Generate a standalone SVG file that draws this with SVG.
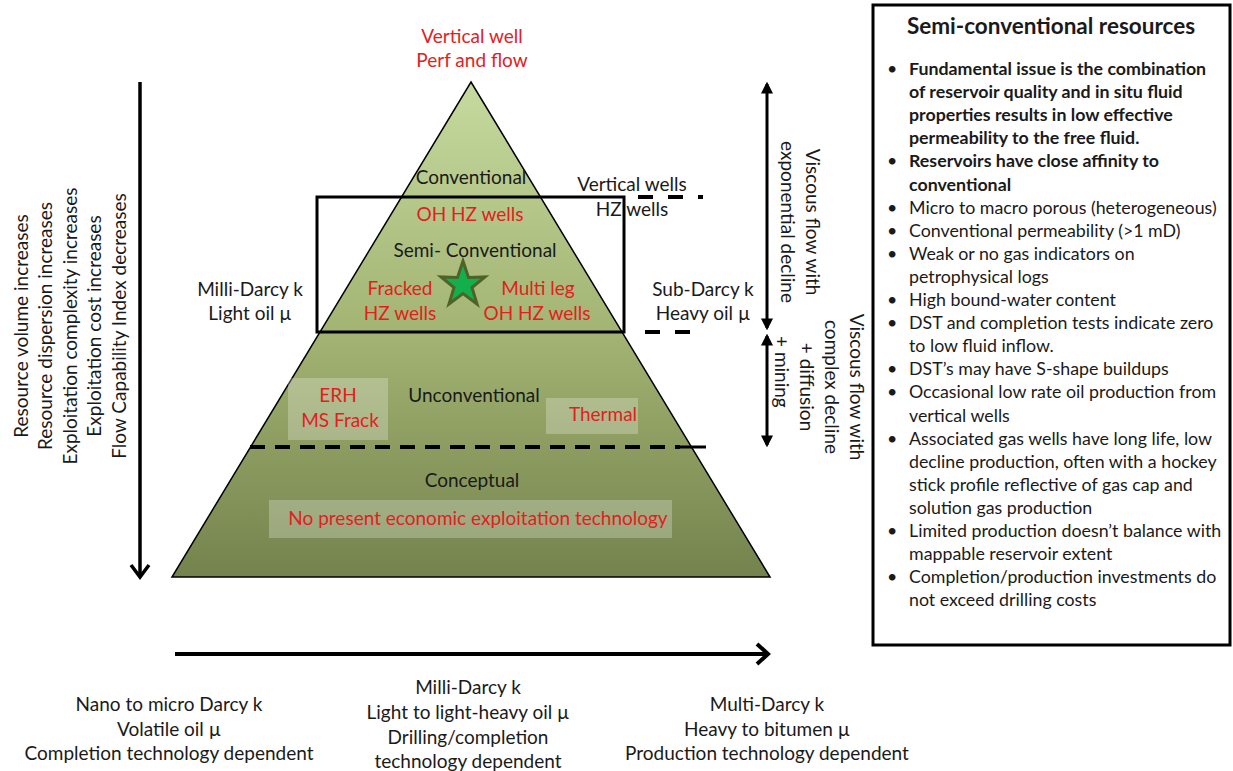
<svg xmlns="http://www.w3.org/2000/svg" width="1233" height="771" viewBox="0 0 1233 771">
<defs>
<linearGradient id="pg" x1="0" y1="82" x2="0" y2="577" gradientUnits="userSpaceOnUse">
<stop offset="0" stop-color="#c6da9f"/>
<stop offset="0.5" stop-color="#a3b473"/>
<stop offset="1" stop-color="#74834d"/>
</linearGradient>
<marker id="tri" viewBox="0 0 10 10" refX="8" refY="5" markerUnits="userSpaceOnUse" markerWidth="12" markerHeight="12" orient="auto-start-reverse">
<path d="M0,0 L10,5 L0,10 z" fill="#000"/>
</marker>
</defs>
<style>
text{font-family:Lato,"Open Sans",sans-serif;font-size:19px;fill:#1a1a1a}
.r{fill:#e3201e}
.c{text-anchor:middle}
.b{font-weight:bold}
.bl{font-size:17.8px}
.hl{fill:#ffffff;fill-opacity:0.25}
.dash{stroke:#000;stroke-width:4;stroke-dasharray:15 15;fill:none}
.ln{stroke:#000;fill:none}
</style>
<rect width="1233" height="771" fill="#fff"/>

<g id="pyramid">
<polygon points="471,82 770,577 172,577" fill="url(#pg)" stroke="#000" stroke-width="1.5"/>
<rect class="hl" x="288" y="378" width="100" height="62"/>
<rect class="hl" x="546" y="398" width="92" height="36"/>
<rect class="hl" x="269" y="500" width="403" height="38"/>
</g>

<g id="connectors">
<rect x="317" y="197" width="307" height="135" class="ln" stroke-width="3"/>
<path class="dash" d="M638 197 H703"/>
<path class="dash" d="M645 332 H693"/>
<path class="dash" d="M250 447 H680" style="stroke-dasharray:15 10"/>
<path class="ln" d="M680 447 H706" stroke-width="3"/>
<path class="ln" d="M140 82 V575" stroke-width="3.5"/>
<polyline class="ln" points="131,565 140,577 149,565" stroke-width="3.5"/>
<path class="ln" d="M175 654 H767" stroke-width="4"/>
<polyline class="ln" points="757,644 768,654 757,664" stroke-width="4"/>
<path class="ln" d="M767 84 V328" stroke-width="3" marker-start="url(#tri)" marker-end="url(#tri)"/>
<path class="ln" d="M767 336 V445" stroke-width="3" marker-start="url(#tri)" marker-end="url(#tri)"/>
</g>

<g id="star">
<polygon points="463,261 468.5,277.5 485,277 472,287.5 477,304 463,293.5 449,304 454,287.5 441,277 457.5,277.5" fill="#12b04c" stroke="#4f6228" stroke-width="3"/>
</g>

<g id="top-label">
<text class="c r" x="472" y="43">Vertical well</text>
<text class="c r" x="472" y="67">Perf and flow</text>
</g>

<g id="conventional">
<text class="c" x="471" y="184">Conventional</text>
<text class="c" x="632" y="191">Vertical wells</text>
<text class="c" x="632" y="216">HZ wells</text>
</g>

<g id="semi-conventional">
<text class="c r" x="470" y="221">OH HZ wells</text>
<text class="c" x="475" y="257">Semi- Conventional</text>
<text class="c r" x="400" y="295">Fracked</text>
<text class="c r" x="400" y="320">HZ wells</text>
<text class="c r" x="538" y="295">Multi leg</text>
<text class="c r" x="537" y="320">OH HZ wells</text>
<text class="c" x="250" y="296">Milli-Darcy k</text>
<text class="c" x="250" y="320">Light oil µ</text>
<text class="c" x="703" y="296">Sub-Darcy k</text>
<text class="c" x="703" y="320">Heavy oil µ</text>
</g>

<g id="unconventional">
<text class="c r" x="338" y="402">ERH</text>
<text class="c r" x="340" y="427">MS Frack</text>
<text class="c" x="474" y="402">Unconventional</text>
<text class="c r" x="603" y="421">Thermal</text>
</g>

<g id="conceptual">
<text class="c" x="472" y="487">Conceptual</text>
<text class="c r" x="478" y="525">No present economic exploitation technology</text>
</g>

<g id="left-axis-label">
<text class="c" transform="translate(28 326) rotate(-90)">Resource volume increases</text>
<text class="c" transform="translate(52 326) rotate(-90)">Resource dispersion increases</text>
<text class="c" transform="translate(77 326) rotate(-90)">Exploitation complexity increases</text>
<text class="c" transform="translate(101 326) rotate(-90)">Exploitation cost increases</text>
<text class="c" transform="translate(126 326) rotate(-90)">Flow Capability Index decreases</text>
</g>

<g id="flow-labels">
<text class="c" transform="translate(806 222) rotate(90)">Viscous flow with</text>
<text class="c" transform="translate(781 222) rotate(90)">exponential decline</text>
<text class="c" transform="translate(850 387) rotate(90)">Viscous flow with</text>
<text class="c" transform="translate(825 387) rotate(90)">complex decline</text>
<text class="c" transform="translate(800 387) rotate(90)">+ diffusion</text>
<text transform="translate(775 336) rotate(90)">+ mining</text>
</g>

<g id="bottom-labels">
<text class="c" x="169" y="711">Nano to micro Darcy k</text>
<text class="c" x="169" y="736">Volatile oil µ</text>
<text class="c" x="169" y="760">Completion technology dependent</text>
<text class="c" x="468" y="694">Milli-Darcy k</text>
<text class="c" x="468" y="719">Light to light-heavy oil µ</text>
<text class="c" x="468" y="744">Drilling/completion</text>
<text class="c" x="468" y="768">technology dependent</text>
<text class="c" x="767" y="711">Multi-Darcy k</text>
<text class="c" x="767" y="736">Heavy to bitumen µ</text>
<text class="c" x="767" y="760">Production technology dependent</text>
</g>

<g id="info-box">
<rect x="873" y="5" width="357" height="640" fill="#fff" stroke="#000" stroke-width="3"/>
<text class="c b" x="1051" y="34" style="font-size:22.5px">Semi-conventional resources</text>
<g>
<text class="bl" x="887" y="75">•</text>
<text class="bl" x="887" y="167.4">•</text>
<text class="bl" x="887" y="213.6">•</text>
<text class="bl" x="887" y="236.7">•</text>
<text class="bl" x="887" y="259.8">•</text>
<text class="bl" x="887" y="306">•</text>
<text class="bl" x="887" y="329.1">•</text>
<text class="bl" x="887" y="375.3">•</text>
<text class="bl" x="887" y="398.4">•</text>
<text class="bl" x="887" y="444.6">•</text>
<text class="bl" x="887" y="537">•</text>
<text class="bl" x="887" y="583.2">•</text>
</g>
<text class="bl b" x="909" y="75">Fundamental issue is the combination<tspan x="909" dy="23.1">of reservoir quality and in situ fluid</tspan><tspan x="909" dy="23.1">properties results in low effective</tspan><tspan x="909" dy="23.1">permeability to the free fluid.</tspan><tspan x="909" dy="23.1">Reservoirs have close affinity to</tspan><tspan x="909" dy="23.1">conventional</tspan></text>
<text class="bl" x="909" y="213.6">Micro to macro porous (heterogeneous)<tspan x="909" dy="23.1">Conventional permeability (&gt;1 mD)</tspan><tspan x="909" dy="23.1">Weak or no gas indicators on</tspan><tspan x="909" dy="23.1">petrophysical logs</tspan><tspan x="909" dy="23.1">High bound-water content</tspan><tspan x="909" dy="23.1">DST and completion tests indicate zero</tspan><tspan x="909" dy="23.1">to low fluid inflow.</tspan><tspan x="909" dy="23.1">DST’s may have S-shape buildups</tspan><tspan x="909" dy="23.1">Occasional low rate oil production from</tspan><tspan x="909" dy="23.1">vertical wells</tspan><tspan x="909" dy="23.1">Associated gas wells have long life, low</tspan><tspan x="909" dy="23.1">decline production, often with a hockey</tspan><tspan x="909" dy="23.1">stick profile reflective of gas cap and</tspan><tspan x="909" dy="23.1">solution gas production</tspan><tspan x="909" dy="23.1">Limited production doesn’t balance with</tspan><tspan x="909" dy="23.1">mappable reservoir extent</tspan><tspan x="909" dy="23.1">Completion/production investments do</tspan><tspan x="909" dy="23.1">not exceed drilling costs</tspan></text>
</g>
</svg>
